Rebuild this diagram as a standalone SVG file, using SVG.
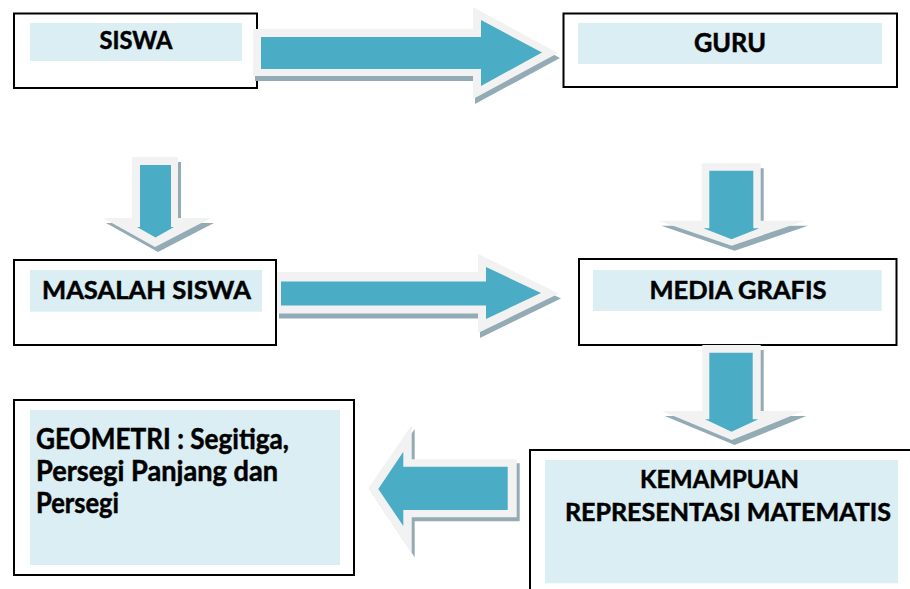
<svg xmlns="http://www.w3.org/2000/svg" width="910" height="589" viewBox="0 0 910 589">
<style>
.box{fill:#ffffff;stroke:#000000;stroke-width:2}
.fill{fill:#daeef3}
.t{font-family:Lato,"Open Sans","Liberation Sans",sans-serif;font-weight:bold;fill:#000000;stroke:#000000;stroke-width:0.5}
.shadow{fill:#93abb5}
.rim{fill:#f2f2f2}
.core{fill:#4bacc6}
</style>
<rect x="0" y="0" width="910" height="589" fill="#ffffff"/>
<g id="siswa">
<rect class="box" x="14" y="13.5" width="243" height="74.5"/>
<rect class="fill" x="30" y="23" width="212" height="38"/>
<text class="t" x="136" y="49" font-size="24" text-anchor="middle" textLength="73" lengthAdjust="spacingAndGlyphs">SISWA</text>
</g>
<g id="guru">
<rect class="box" x="563.5" y="13.5" width="333.5" height="73.5"/>
<rect class="fill" x="578" y="23" width="304" height="41"/>
<text class="t" x="730" y="52" font-size="26" text-anchor="middle" textLength="72" lengthAdjust="spacingAndGlyphs">GURU</text>
</g>
<g id="masalah-siswa">
<rect class="box" x="14" y="260" width="262" height="85"/>
<rect class="fill" x="30" y="270" width="232" height="41.7"/>
<text class="t" x="146.5" y="299" font-size="25" text-anchor="middle" textLength="209" lengthAdjust="spacingAndGlyphs">MASALAH SISWA</text>
</g>
<g id="media-grafis">
<rect class="box" x="579" y="259" width="317.5" height="86"/>
<rect class="fill" x="593" y="270" width="288.7" height="41"/>
<text class="t" x="738" y="299" font-size="25.5" text-anchor="middle" textLength="177" lengthAdjust="spacingAndGlyphs">MEDIA GRAFIS</text>
</g>
<g id="geometri">
<rect class="box" x="14" y="400" width="340" height="175"/>
<rect class="fill" x="30" y="410" width="310" height="155"/>
<text class="t" x="36" y="449" font-size="29" textLength="253" lengthAdjust="spacingAndGlyphs">GEOMETRI : Segitiga,</text>
<text class="t" x="36" y="481" font-size="29" textLength="242" lengthAdjust="spacingAndGlyphs">Persegi Panjang dan</text>
<text class="t" x="36" y="513" font-size="29" textLength="83" lengthAdjust="spacingAndGlyphs">Persegi</text>
</g>
<g id="kemampuan">
<rect class="box" x="530" y="450" width="382" height="150"/>
<rect class="fill" x="545" y="460" width="353" height="123.3"/>
<text class="t" x="719.5" y="488" font-size="25" text-anchor="middle" textLength="159" lengthAdjust="spacingAndGlyphs">KEMAMPUAN</text>
<text class="t" x="728" y="521" font-size="25" text-anchor="middle" textLength="326" lengthAdjust="spacingAndGlyphs">REPRESENTASI MATEMATIS</text>
</g>
<g id="connectors">
<g id="arrow-siswa-guru">
<polygon class="shadow" transform="translate(2,5)" points="253,29 473,29 473,7 558,53 473,99 473,76 253,76"/>
<polygon class="rim" points="253,29 473,29 473,7 558,53 473,99 473,76 253,76"/>
<polygon class="core" points="261,37 481,37 481,20 542,52.5 481,86 481,69 261,69"/>
</g>
<g id="arrow-masalah-media">
<polygon class="shadow" transform="translate(2,5)" points="277,272 478,272 478,254 559,293.5 478,333 478,313.5 277,313.5"/>
<polygon class="rim" points="277,272 478,272 478,254 559,293.5 478,333 478,313.5 277,313.5"/>
<polygon class="core" points="281,281.5 486,281.5 486,267 541,293 486,319 486,305.5 281,305.5"/>
</g>
<g id="arrow-siswa-masalah">
<polygon class="shadow" transform="translate(3,5)" points="132,157 178,157 178,218 211,218 155,247 103,218 132,218"/>
<polygon class="rim" points="132,157 178,157 178,218 211,218 155,247 103,218 132,218"/>
<polygon class="core" points="140,165 171,165 171,227 174,227 155.5,237.5 137,227 140,227"/>
</g>
<g id="arrow-guru-media">
<polygon class="shadow" transform="translate(3,5)" points="701.7,163.3 760.7,163.3 760.7,220.7 805,220.7 731.7,245.7 658.3,220.7 701.7,220.7"/>
<polygon class="rim" points="701.7,163.3 760.7,163.3 760.7,220.7 805,220.7 731.7,245.7 658.3,220.7 701.7,220.7"/>
<polygon class="core" points="709.3,170.7 753.3,170.7 753.3,228.3 759.3,228.3 731.5,239.3 703.3,228.3 709.3,228.3"/>
</g>
<g id="arrow-media-kemampuan">
<polygon class="shadow" transform="translate(3,5)" points="702.3,345 760.7,345 760.7,411 803.3,411 731.7,440 661.7,411 702.3,411"/>
<polygon class="rim" points="702.3,345 760.7,345 760.7,411 803.3,411 731.7,440 661.7,411 702.3,411"/>
<polygon class="core" points="709.3,352.7 752.7,352.7 752.7,419.3 758.3,419.3 731.5,431.7 705,419.3 709.3,419.3"/>
</g>
<g id="arrow-kemampuan-geometri">
<polygon class="shadow" transform="translate(3,4)" points="516.7,459.3 411.7,459.3 411.7,425 368.3,488.3 411.7,553.3 411.7,517.3 516.7,517.3"/>
<polygon class="rim" points="516.7,459.3 411.7,459.3 411.7,425 368.3,488.3 411.7,553.3 411.7,517.3 516.7,517.3"/>
<polygon class="core" points="507.7,466.7 403.3,466.7 403.3,451.7 378.3,489 403.3,526 403.3,510 507.7,510"/>
</g>
</g>
</svg>
